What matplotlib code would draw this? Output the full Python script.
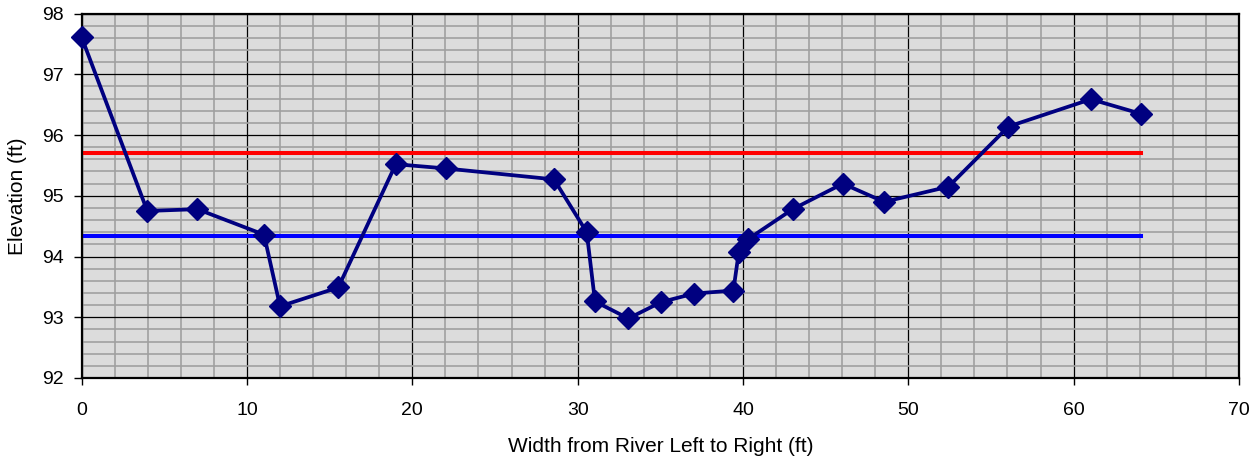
import matplotlib.pyplot as plt
from matplotlib.ticker import MultipleLocator

plt.rcParams['font.family'] = ['Liberation Sans', 'DejaVu Sans']

# cross-section survey points
width_ft = [0.0, 3.97, 7.0, 11.03, 12.0, 15.52, 19.0, 22.04, 28.57, 30.55,
            31.05, 33.07, 35.05, 37.04, 39.42, 39.75, 40.33, 43.01, 46.04,
            48.54, 52.43, 56.06, 61.04, 64.07]
elevation_ft = [97.61, 94.75, 94.78, 94.36, 93.18, 93.49, 95.52, 95.45, 95.27,
                94.40, 93.26, 92.98, 93.25, 93.39, 93.44, 94.08, 94.29, 94.78,
                95.20, 94.90, 95.15, 96.14, 96.59, 96.35]

# reference water levels
red_level = 95.71
blue_level = 94.34

fig = plt.figure(figsize=(12.6, 4.59), dpi=100)
ax = fig.add_axes([0.0648, 0.1765, 0.9185, 0.7939])
ax.set_facecolor("#dcdcdc")

ax.set_xlim(0, 70)
ax.set_ylim(92, 98)
ax.xaxis.set_major_locator(MultipleLocator(10))
ax.xaxis.set_minor_locator(MultipleLocator(2))
ax.yaxis.set_major_locator(MultipleLocator(1))
ax.yaxis.set_minor_locator(MultipleLocator(0.2))

ax.grid(which="minor", color="#a0a0a0", linewidth=1.2, zorder=0)
ax.grid(which="major", color="black", linewidth=0.9, zorder=0)
ax.set_axisbelow(True)

ax.tick_params(which="major", direction="out", width=1, labelsize=14, colors="black")
ax.tick_params(axis="x", which="major", length=5, pad=12)
ax.tick_params(axis="y", which="major", length=6, pad=7)
ax.tick_params(which="minor", length=0)

x_span = [width_ft[0], width_ft[-1]]
ax.plot(x_span, [red_level, red_level], color="#ff0000", linewidth=2.9, zorder=2)
ax.plot(x_span, [blue_level, blue_level], color="#0000ff", linewidth=2.9, zorder=2)
ax.plot(width_ft, elevation_ft, color="#000080", linewidth=2.7, marker="D",
        markersize=11, markerfacecolor="#000080", markeredgecolor="#000080",
        zorder=3, clip_on=False)

for s in ax.spines.values():
    s.set_color("black")
    s.set_linewidth(1.6)

ax.set_xlabel("Width from River Left to Right (ft)", fontsize=15, va="center")
ax.set_ylabel("Elevation (ft)", fontsize=15, va="center")
ax.xaxis.set_label_coords(0.5, -0.189)
ax.yaxis.set_label_coords(-0.055, 0.5)

fig.savefig("out.png", dpi=100)
